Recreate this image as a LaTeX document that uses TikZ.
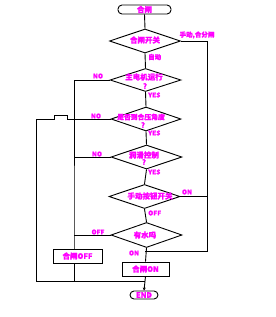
\documentclass[tikz,border=0pt]{standalone}
\usepackage{fontspec}
\newfontfamily\cjk[FakeBold=1.2]{Noto Sans CJK SC}
\usetikzlibrary{shapes.geometric,arrows.meta}
\definecolor{txt}{RGB}{255,0,255}
\tikzset{
  ln/.style={draw=black,line width=0.9pt},
  arr/.style={ln,-{Stealth[length=3pt,width=3pt]}},
  dia/.style={diamond,draw=black,line width=0.9pt,inner sep=0pt,minimum width=71pt,minimum height=24pt},
  tx/.style={text=txt,font=\cjk\bfseries\fontsize{7.5}{8}\selectfont,inner sep=0pt},
  lbl/.style={text=txt,font=\cjk\bfseries\fontsize{6.5}{7}\selectfont,inner sep=0pt},
  term/.style={draw=black,line width=0.9pt,rounded corners=4pt,inner sep=0pt},
  boxs/.style={draw=black,line width=0.9pt,inner sep=0pt}
}
\begin{document}
\begin{tikzpicture}[x=1pt,y=-1pt]
\useasboundingbox (0,0) rectangle (276,317);
% terminals and boxes
\node[term,minimum width=53pt,minimum height=9pt] (start) at (144.5,9.5) {};
\node[tx] (starttx) at (144.5,9.5) {合闸};
\node[dia] (d1) at (145,41) {};
\node[tx] (d1tx) at (145,40) {合闸开关};
\node[dia,minimum height=23pt] (d2) at (145.5,80) {};
\node[tx] (d2tx) at (144,77) {主电机运行};
\node[tx] (d2q) at (145,86) {?};
\node[dia,minimum width=70pt] (d3) at (146,119) {};
\node[tx,font=\cjk\bfseries\fontsize{6.8}{7}\selectfont] (d3tx) at (141,117) {是否到合压角度};
\node[tx] (d3q) at (143,125) {?};
\node[dia] (d4) at (146.5,157) {};
\node[tx] (d4tx) at (144,155) {润滑控制};
\node[tx] (d4q) at (144,162) {?};
\node[dia] (d5) at (144.5,196.5) {};
\node[tx] (d5tx) at (150,196) {手动按钮开关};
\node[dia,minimum height=25pt] (d6) at (146.5,235) {};
\node[tx] (d6tx) at (145,235) {有水吗};
\node[boxs,minimum width=49pt,minimum height=14pt] (boff) at (77.5,256) {};
\node[tx] (bofftx) at (77.5,256) {合闸OFF};
\node[boxs,minimum width=47pt,minimum height=14pt] (bon) at (145.5,269) {};
\node[tx] (bontx) at (145.5,269) {合闸ON};
\node[term,minimum width=28pt,minimum height=8pt] (fin) at (144,295) {};
\node[tx] (fintx) at (144,295) {END};
% helper coordinates
\coordinate (r1) at (207,41);
\coordinate (r2) at (207,251);
\coordinate (j1) at (145,251);
\coordinate (l2) at (74,80);
\coordinate (l4) at (74,157);
\coordinate (l6) at (74,235);
\coordinate (lt) at (74,249);
\coordinate (lb) at (74,281);
\coordinate (j2) at (145,281);
\coordinate (k1) at (67,119);
\coordinate (k2) at (67,115);
\coordinate (k3) at (54,115);
\coordinate (k4) at (54,119);
\coordinate (k5) at (36,119);
\coordinate (k6) at (36,281);
\coordinate (r5) at (207,196.5);
% main line
\draw[ln] (start.south) -- (d1.north);
\draw[ln] (d1.south) -- (d2.north);
\draw[ln] (d2.south) -- (d3.north);
\draw[ln] (d3.south) -- (d4.north);
\draw[ln] (d4.south) -- (d5.north);
\draw[ln] (d5.south) -- (d6.north);
\draw[ln] (d6.south) -- (bon.north);
\draw[arr] (bon.south) -- (fin.north);
% right branch
\draw[ln] (d1.east) -- (r1) -- (r2) -- (j1);
\draw[ln] (d5.east) -- (r5);
% left branches
\draw[ln] (d2.west) -- (l2) -- (lt) -- (boff.north -| lt);
\draw[ln] (d4.west) -- (l4);
\draw[ln] (d6.west) -- (l6);
\draw[ln] (boff.south -| lb) -- (lb);
\draw[ln] (d3.west) -- (k1) -- (k2) -- (k3) -- (k4) -- (k5) -- (k6) -- (j2);
% labels
\node[lbl] (la1) at (197,35) {手动,合分闸};
\node[lbl,anchor=west] (la2) at (148,57) {自动};
\node[lbl] (la3) at (98,76) {NO};
\node[lbl,anchor=west] (la4) at (148,95) {YES};
\node[lbl] (la5) at (96,116) {NO};
\node[lbl,anchor=west] (la6) at (148,133) {YES};
\node[lbl] (la7) at (97,154) {NO};
\node[lbl,anchor=west] (la8) at (148,172) {YES};
\node[lbl] (la9) at (187,192) {ON};
\node[lbl,anchor=west] (la10) at (148,213) {OFF};
\node[lbl] (la11) at (98,232) {OFF};
\node[lbl] (la12) at (134,253) {ON};
\end{tikzpicture}
\end{document}
